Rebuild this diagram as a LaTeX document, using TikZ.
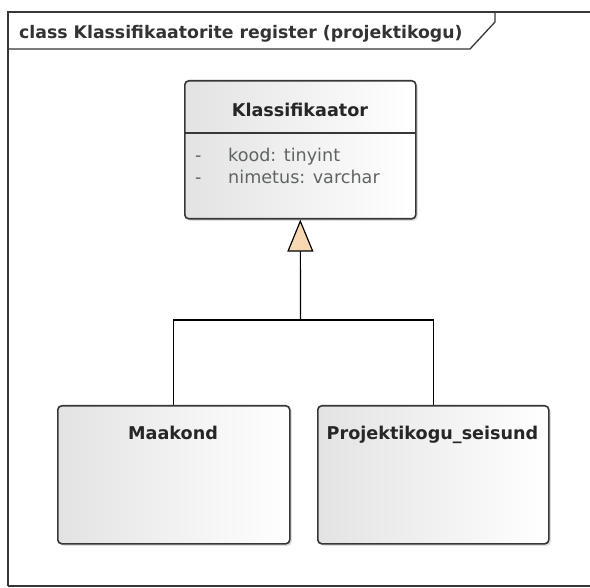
\documentclass[tikz,border=0pt]{standalone}
\usepackage{fontspec}
\setmainfont{DejaVu Sans}
\usetikzlibrary{arrows.meta,shadows}
\definecolor{tri}{RGB}{247,216,178}
\definecolor{edge}{RGB}{55,55,55}
\definecolor{attrtext}{RGB}{95,100,100}
\begin{document}
\begin{tikzpicture}[x=1pt,y=-1pt,
  umlclass/.style={draw=edge, line width=1.6pt, rounded corners=4pt,
    left color=black!11, right color=white, shading angle=90,
    drop shadow={shadow xshift=2pt, shadow yshift=-2pt, opacity=0.25},
    inner sep=0pt, anchor=north west},
  gen/.style={draw=black, line width=1.2pt,
    -{Triangle[open, width=26pt, length=32pt, fill=tri]}},
  conn/.style={draw=black, line width=1.2pt},
  title/.style={font=\fontsize{17.6}{19}\selectfont\bfseries, text=black!85, anchor=base, inner sep=0pt},
  attr/.style={font=\fontsize{17.6}{19}\selectfont, text=attrtext, anchor=base west, inner sep=0pt}]
\useasboundingbox (0,0) rectangle (590,588);
\fill[white] (0,0) rectangle (590,588);

% diagram frame with its name tab
\draw[edge, line width=1.3pt] (8,586) -- (8,12) -- (600,12);
\draw[edge, line width=1.3pt] (8,586) -- (600,586);
\draw[edge, line width=1.3pt] (8,49) -- (470,49) -- (495,22) -- (495,12);
\node[anchor=base west, inner sep=0pt, font=\fontsize{17.3}{19}\selectfont\bfseries, text=black!80] (frametitle) at (19,38.5)
  {class Klassifikaatorite register (projektikogu)};

% classes
\node[umlclass, minimum width=231pt, minimum height=138pt] (klass) at (184,80) {};
\draw[edge, line width=1.3pt] (184,133) -- (415,133);
\node[title] (klassname) at (300,116.7) {Klassifikaator};
\node[attr] (a1m) at (195,161.7) {-};
\node[attr] (a1) at (228,161.7) {kood: tinyint};
\node[attr] (a2m) at (195,184) {-};
\node[attr] (a2) at (228,184) {nimetus: varchar};

\node[umlclass, minimum width=232pt, minimum height=138pt] (maakond) at (57,405) {};
\node[title] (maakondname) at (173,440) {Maakond};

\node[umlclass, minimum width=231pt, minimum height=138pt] (proj) at (317,405) {};
\node[title] (projname) at (432.5,440) {Projektikogu\_seisund};

% generalisation tree
\coordinate (jn) at (300.5,320);
\draw[conn] (maakond.north) |- (jn);
\draw[conn] (proj.north) |- (jn);
\draw[gen] (jn) -- (klass.south);
\end{tikzpicture}
\end{document}
